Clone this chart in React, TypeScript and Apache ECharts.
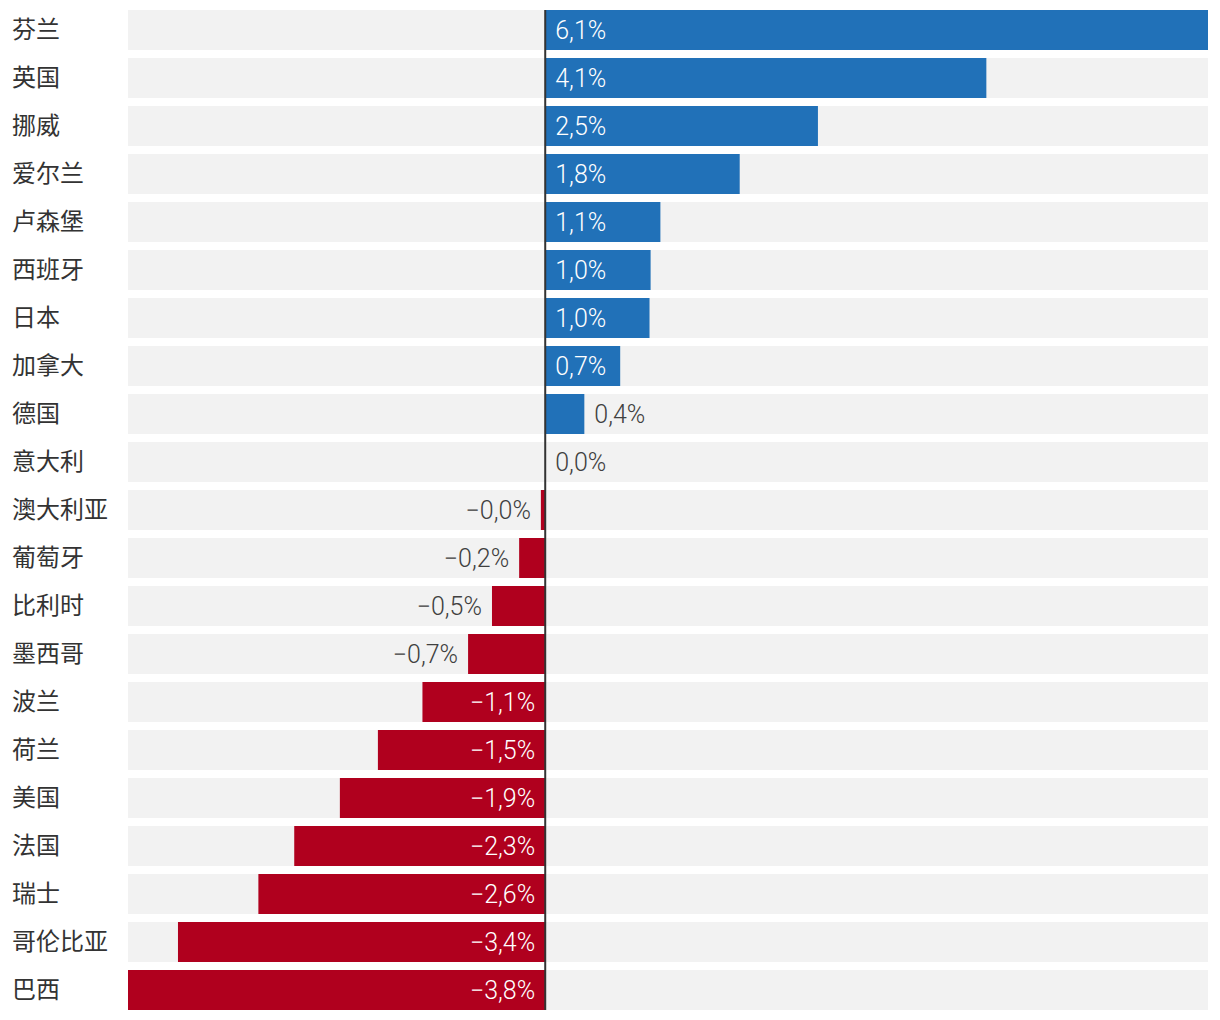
import React, { useEffect, useRef } from "react";
import * as echarts from "echarts";

const categories = [
  "芬兰", "英国", "挪威", "爱尔兰", "卢森堡", "西班牙", "日本", "加拿大", "德国", "意大利",
  "澳大利亚", "葡萄牙", "比利时", "墨西哥", "波兰", "荷兰", "美国", "法国", "瑞士", "哥伦比亚", "巴西",
];
const values = [
  6.1, 4.06, 2.51, 1.79, 1.06, 0.97, 0.96, 0.69, 0.36, 0.0,
  -0.04, -0.24, -0.49, -0.71, -1.13, -1.54, -1.89, -2.31, -2.64, -3.38, -3.84,
];

const POS_COLOR = "#2171b8";
const NEG_COLOR = "#b0001e";
const BG_COLOR = "#f2f2f2";
const TEXT_DARK = "#404040";
const NUM_FONT = "Roboto, 'Noto Sans', sans-serif";
const CJK_FONT = "'Noto Sans CJK SC', sans-serif";
const BAR_W = 40;
const GRID = { left: 128, right: 12, top: 6, bottom: 6 };
const WIDTH = 1220;
const HEIGHT = 1020;

function fmt(v: number): string {
  const s = Math.abs(v).toFixed(1).replace(".", ",") + "%";
  return v < 0 ? "\u2212" + s : s;
}

function measure(text: string, size: number): number {
  const c = document.createElement("canvas").getContext("2d");
  if (!c) return text.length * 13;
  c.font = `300 ${size}px Roboto`;
  return c.measureText(text).width;
}

export default function App() {
  const ref = useRef<HTMLDivElement>(null);
  useEffect(() => {
    if (!ref.current) return;
    const chart = echarts.init(ref.current, undefined, { renderer: "svg" });
    const min = Math.min(...values);
    const max = Math.max(...values);
    const pxPerUnit = (WIDTH - GRID.left - GRID.right) / (max - min);
    const fontSize = 25;

    const data = values.map((v) => {
      const label = fmt(v);
      const fits = Math.abs(v) * pxPerUnit >= measure(label, fontSize) + 20;
      const position = v >= 0 ? (fits ? "insideLeft" : "right") : fits ? "insideRight" : "left";
      return {
        value: v,
        itemStyle: { color: v >= 0 ? POS_COLOR : NEG_COLOR },
        label: {
          show: true,
          position,
          distance: 10,
          color: fits ? "#ffffff" : TEXT_DARK,
          formatter: () => label,
        },
      };
    });

    chart.setOption({
      animation: false,
      grid: { ...GRID, containLabel: false },
      xAxis: {
        type: "value",
        min,
        max,
        show: false,
        splitLine: { show: false },
      },
      yAxis: {
        type: "category",
        data: categories,
        inverse: true,
        axisLine: { show: false },
        axisTick: { show: false },
        splitLine: { show: false },
        axisLabel: {
          align: "left",
          margin: GRID.left - 12,
          formatter: (v: string) => `{n|${v}}`,
          rich: {
            n: {
              fontSize: 24,
              color: "#333333",
              fontFamily: CJK_FONT,
              padding: [0, 0, 6, 0],
            },
          },
        },
      },
      series: [
        {
          type: "bar",
          data,
          barWidth: BAR_W,
          showBackground: true,
          backgroundStyle: { color: BG_COLOR },
          label: {
            fontSize,
            fontFamily: NUM_FONT,
            fontWeight: 300,
          },
        },
        {
          type: "custom",
          z: 5,
          silent: true,
          data: [[0, 0]],
          renderItem: (params: any, api: any) => {
            const top = api.coord([0, 0]);
            const bottom = api.coord([0, categories.length - 1]);
            return {
              type: "line",
              shape: {
                x1: top[0],
                y1: top[1] - BAR_W / 2,
                x2: bottom[0],
                y2: bottom[1] + BAR_W / 2,
              },
              style: { stroke: "#333333", lineWidth: 2 },
            };
          },
        },
      ],
    });
    return () => chart.dispose();
  }, []);
  return (
    <div
      ref={ref}
      style={{ position: "absolute", left: 0, top: 0, width: WIDTH, height: HEIGHT }}
    />
  );
}
